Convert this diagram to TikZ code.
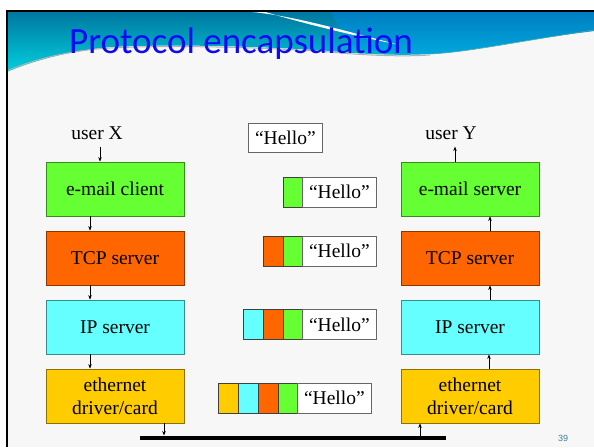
\documentclass[tikz,border=0pt]{standalone}
\usepackage{fontspec}
\setmainfont{Liberation Serif}
\newfontfamily\titlefont{Carlito}
\newfontfamily\numfont{Liberation Sans}
\usetikzlibrary{arrows.meta}

\definecolor{pgbg}{RGB}{247,247,247}
\definecolor{hdtop}{RGB}{0,118,160}
\definecolor{hdbot}{RGB}{0,208,222}
\definecolor{titleblue}{RGB}{10,10,245}
\definecolor{appgreen}{RGB}{102,255,51}
\definecolor{tcporange}{RGB}{255,102,0}
\definecolor{ipcyan}{RGB}{102,255,255}
\definecolor{ethyellow}{RGB}{255,204,0}
\definecolor{pagenum}{RGB}{62,128,158}

\tikzset{
  layer/.style={draw=#1!55!black, line width=0.8pt, minimum width=138pt,
    minimum height=54pt, inner sep=0pt, align=center, font=\fontsize{19.5}{23}\selectfont},
  cell/.style={draw=black!75, fill=#1, line width=0.8pt, minimum width=20pt,
    minimum height=30pt, inner sep=0pt, anchor=west},
  payload/.style={draw=black!60, fill=white, line width=0.8pt, minimum width=74pt,
    minimum height=30pt, inner sep=0pt, anchor=west, font=\fontsize{19.5}{22}\selectfont},
  lbl/.style={inner sep=0pt, font=\fontsize{19.5}{22}\selectfont},
  arr/.style={line width=0.6pt, -{Stealth[length=4.5pt,width=3.5pt]}},
}

\begin{document}
\begin{tikzpicture}[x=1pt,y=-1pt]
\useasboundingbox (0,0) rectangle (594,447);

% slide background and frame
\fill[white] (0,0) rectangle (594,447);
\fill[pgbg] (7,11) rectangle (594,447);

% header band
\shade[top color=hdtop, bottom color=hdbot]
  (7,11) -- (594,11) -- (594,31)
  .. controls (520,40) and (470,52) .. (430,54)
  .. controls (400,56) and (360,54) .. (330,51)
  .. controls (260,46) and (170,44) .. (110,47)
  .. controls (60,52) and (25,64) .. (7,72) -- cycle;
% bluish right part of the header
\fill[blue!45!cyan, opacity=0.35]
  (330,11) -- (594,11) -- (594,31)
  .. controls (520,40) and (470,52) .. (430,54)
  .. controls (400,55) and (370,52) .. (350,45) -- cycle;
% white swoosh
\fill[white]
  (240,11) .. controls (290,14) and (340,30) .. (400,45)
  .. controls (345,34) and (295,21) .. (262,11) -- cycle;
% thin rims along the lower edge of the header
\draw[gray!60, line width=1pt]
  (7,71) .. controls (25,63) and (60,51) .. (110,48)
  .. controls (170,45) and (260,47) .. (330,52)
  .. controls (360,55) and (400,57) .. (430,55);
\draw[teal!70, line width=0.6pt]
  (430,54) .. controls (470,52) and (520,41) .. (594,30);

% frame lines
\draw[black, line width=2pt] (7,447) -- (7,11) -- (594,11);

% title
\node[anchor=base west, inner sep=0pt, text=titleblue,
      font=\titlefont\fontsize{37}{40}\selectfont] (title) at (69,53) {Protocol encapsulation};

% sender stack
\node[layer=appgreen,  fill=appgreen]  (mailL) at (115,189) {e-mail client};
\node[layer=tcporange, fill=tcporange] (tcpL)  at (115,258) {TCP server};
\node[layer=ipcyan,    fill=ipcyan]    (ipL)   at (115,327) {IP server};
\node[layer=ethyellow, fill=ethyellow] (ethL)  at (115,396) {ethernet\\driver/card};

% receiver stack
\node[layer=appgreen,  fill=appgreen]  (mailR) at (470,189) {e-mail server};
\node[layer=tcporange, fill=tcporange] (tcpR)  at (470,258) {TCP server};
\node[layer=ipcyan,    fill=ipcyan]    (ipR)   at (470,327) {IP server};
\node[layer=ethyellow, fill=ethyellow] (ethR)  at (470,396) {ethernet\\driver/card};

% users
\node[lbl] (ux) at (97,133) {user X};
\node[lbl] (uy) at (451,133) {user Y};

% encapsulated message at each layer
\node[payload, minimum height=29pt] (m0) at (248,137.5) {“Hello”};

\node[cell=appgreen] (m1a) at (283,192) {};
\node[payload] (m1) at (302,192) {“Hello”};

\node[cell=tcporange] (m2t) at (263,251) {};
\node[cell=appgreen]  (m2a) at (283,251) {};
\node[payload] (m2) at (302,251) {“Hello”};

\node[cell=ipcyan]    (m3i) at (243,324.5) {};
\node[cell=tcporange] (m3t) at (263,324.5) {};
\node[cell=appgreen]  (m3a) at (283,324.5) {};
\node[payload] (m3) at (302,324.5) {“Hello”};

\node[cell=ethyellow] (m4e) at (218,398) {};
\node[cell=ipcyan]    (m4i) at (238,398) {};
\node[cell=tcporange] (m4t) at (258,398) {};
\node[cell=appgreen]  (m4a) at (278,398) {};
\node[payload] (m4) at (297,398) {“Hello”};

% shared cable
\coordinate (busL) at (140,437.5);
\coordinate (busR) at (446,437.5);
\coordinate (tapL) at (164,435.5);
\coordinate (tapR) at (420,435.5);
\draw[line width=4pt] (busL) -- (busR);

% downward path on the sender side
\draw[arr] ([xshift=-15pt,yshift=15pt]mailL.north) -- ([xshift=-15pt]mailL.north);
\draw[arr] ([xshift=-25pt]mailL.south) -- ([xshift=-25pt]tcpL.north);
\draw[arr] ([xshift=-25pt]tcpL.south) -- ([xshift=-25pt]ipL.north);
\draw[arr] ([xshift=-25pt]ipL.south) -- ([xshift=-25pt]ethL.north);
\draw[arr] (ethL.south -| tapL) -- (tapL);

% upward path on the receiver side
\draw[arr] (tapR |- busR) -- (ethR.south -| tapR);
\draw[arr] ([xshift=19pt]ethR.north) -- ([xshift=19pt]ipR.south);
\draw[arr] ([xshift=20pt]ipR.north) -- ([xshift=20pt]tcpR.south);
\draw[arr] ([xshift=20pt]tcpR.north) -- ([xshift=20pt]mailR.south);
\draw[arr] ([xshift=-15pt]mailR.north) -- ([xshift=-15pt,yshift=15pt]mailR.north);

% page number
\node[text=pagenum, font=\numfont\fontsize{9}{10}\selectfont] (pg) at (563,438) {39};
\end{tikzpicture}
\end{document}
